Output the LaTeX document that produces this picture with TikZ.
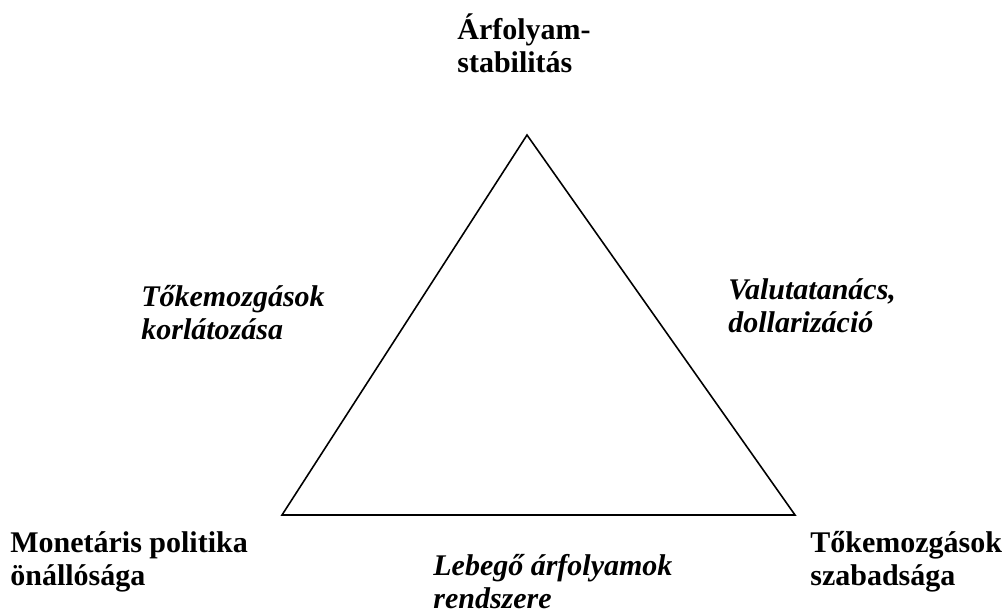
\documentclass[tikz,border=0pt]{standalone}
\usepackage{fontspec}
\setmainfont{Liberation Serif}
\usepackage{tikz}

\tikzset{
    cornertext/.style={anchor=base west, inner sep=0pt, align=left,
        font=\fontsize{17.07}{18.78}\selectfont\bfseries},
    sidetext/.style={cornertext, font=\fontsize{17.07}{18.78}\selectfont\bfseries\itshape}
}

\begin{document}
\begin{tikzpicture}
    \useasboundingbox (0,0) rectangle (20.16,12.22);

    \coordinate (apex) at (10.54,9.52);
    \coordinate (monetary) at (5.64,1.92);
    \coordinate (capital) at (15.90,1.92);
    \draw[line width=0.9pt]
        (apex)
        -- (monetary)
        -- (capital)
        -- cycle;

    % base anchor sits on the last line
    \node[cornertext] (stability) at (9.14,10.76) {Árfolyam-\\stabilitás};
    \node[cornertext] (autonomy) at (0.20,0.50) {Monetáris politika\\önállósága};
    \node[cornertext] (freedom) at (16.20,0.50) {Tőkemozgások\\szabadsága};

    \node[sidetext] (controls) at (2.82,5.42) {Tőkemozgások\\korlátozása};
    \node[sidetext] (board) at (14.56,5.56) {Valutatanács,\\dollarizáció};
    \node[sidetext] (floating) at (8.66,0.04) {Lebegő árfolyamok\\rendszere};
\end{tikzpicture}
\end{document}
